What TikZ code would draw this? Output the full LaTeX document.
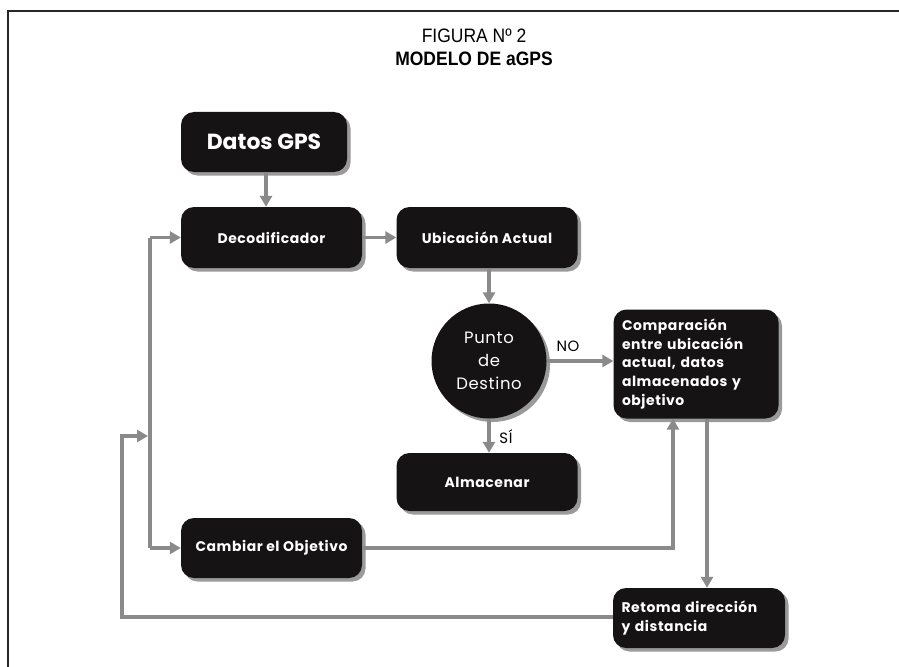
\documentclass[tikz,border=0pt]{standalone}
\usepackage{fontspec}
\setmainfont{Liberation Sans}
\newfontfamily\gothic{Poppins}[LetterSpace=4]
\newfontfamily\gothicdatos{Poppins}
\usetikzlibrary{arrows.meta,calc,shadows}
\definecolor{linegray}{HTML}{8A8A8A}
\definecolor{shadowgray}{HTML}{9A9A9A}
\definecolor{boxblack}{HTML}{151313}
\tikzset{
  blk/.style={fill=boxblack, text=white, rounded corners=13bp, inner sep=0pt,
    font=\gothic\bfseries\fontsize{14}{19}\selectfont, align=center,
    drop shadow={shadow xshift=3.5bp, shadow yshift=-3.5bp, fill=shadowgray, opacity=1}},
  con/.style={draw=linegray, line width=3.6bp},
  arr/.style={con, -{Triangle[length=11bp,width=12bp]}},
  lbl/.style={font=\gothic\fontsize{15}{16}\selectfont, text=black},
}
\begin{document}
\begin{tikzpicture}[x=1bp,y=-1bp]
\useasboundingbox (0,0) rectangle (899,667);
\fill[white] (0,0) rectangle (899,667);
% frame
\draw[line width=1.6bp, draw=black!85] (8,667) -- (8,11) -- (899,11);
% title
\node[xscale=0.9] (t1) at (474,36) {\fontsize{19.5}{22}\selectfont FIGURA Nº 2};
\node[xscale=0.9] (t2) at (474,59) {\bfseries\fontsize{19.5}{22}\selectfont MODELO DE aGPS};
% boxes
\node[blk, minimum width=166bp, minimum height=60bp, font=\gothicdatos\bfseries\fontsize{22}{24}\selectfont] (datos) at (264,142) {Datos GPS};
\node[blk, minimum width=181bp, minimum height=61bp] (deco) at (271.5,237.5) {Decodificador};
\node[blk, minimum width=181bp, minimum height=61bp] (ubic) at (487,237.5) {Ubicación Actual};
\node[circle, fill=boxblack, text=white, minimum size=115bp, inner sep=0pt, align=center,
  font=\gothic\fontsize{16.5}{23}\selectfont,
  drop shadow={shadow xshift=3.5bp, shadow yshift=-3.5bp, fill=shadowgray, opacity=1}] (punto) at (489,361) {Punto\\de\\Destino};
\node[blk, minimum width=165bp, minimum height=109bp, align=left, text width=148bp] (comp) at (696,364) {Comparación\\entre ubicación\\actual, datos\\almacenados y\\objetivo};
\node[blk, minimum width=181bp, minimum height=58bp] (alma) at (487,482) {Almacenar};
\node[blk, minimum width=181bp, minimum height=60bp] (camb) at (271.5,548) {Cambiar el Objetivo};
\node[blk, minimum width=172bp, minimum height=60bp, align=left, text width=155bp] (ret) at (699,618) {Retoma dirección\\y distancia};
% labels
\node[lbl] (no) at (568,346) {NO};
\node[lbl] (si) at (506,437) {SÍ};
% coordinates
\coordinate (vtop) at (150,237.5);
\coordinate (vbot) at (150,548);
\coordinate (cup) at (673,548);
\coordinate (lft) at (122,617);
\coordinate (ltop) at (122,436);
\coordinate (ltip) at (148,436);
% connectors
\draw[arr] (datos.south -| 266,0) -- (deco.north -| 266,0);
\draw[arr] (deco.east) -- (ubic.west);
\draw[arr] (ubic.south -| punto.north) -- (punto.north);
\draw[arr] (punto.east) -- (punto.east -| comp.west);
\draw[arr] (punto.south) -- (punto.south |- alma.north);
\draw[con] (vtop) -- (vbot);
\draw[arr] (vtop) -- (deco.west);
\draw[arr] (vbot) -- (camb.west);
\draw[arr] (camb.east) -- (cup) -- (cup |- comp.south);
\draw[arr] (comp.south -| 707,0) -- (ret.north -| 707,0);
\draw[arr] (ret.west |- lft) -- (lft) -- (ltop) -- (ltip);
\end{tikzpicture}
\end{document}
